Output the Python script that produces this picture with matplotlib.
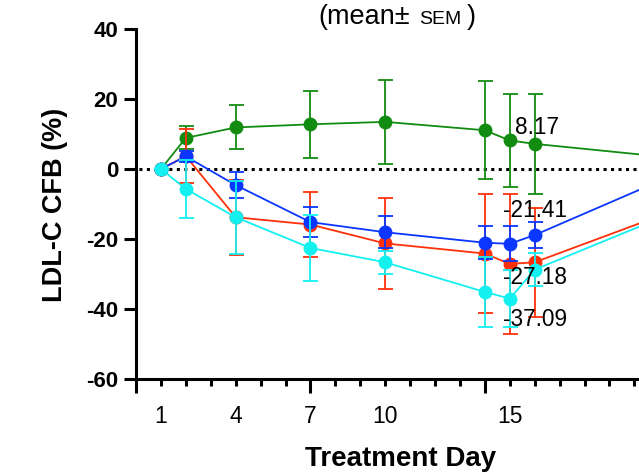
import numpy as np
import matplotlib
matplotlib.use("Agg")
import matplotlib.pyplot as plt
from matplotlib.ticker import MultipleLocator

plt.rcParams['font.family'] = ['Liberation Sans', 'DejaVu Sans']
plt.rcParams['axes.unicode_minus'] = False

# Data (LDL-C change from baseline, %)
days = [1, 2, 4, 7, 10, 14, 15, 16, 22]
green = [0, 8.9, 11.9, 12.8, 13.5, 11.1, 8.17, 7.2, 2.9]
green_err = [0, 3.3, 6.3, 9.6, 12.0, 14.1, 13.4, 14.3, 12.0]
red = [0, 3.7, -13.8, -15.9, -21.3, -24.2, -27.18, -26.7, -10.8]
red_err = [0, 7.7, 10.7, 9.2, 13.0, 17.0, 20.0, 15.6, 12.0]
blue = [0, 3.6, -4.6, -15.2, -18.1, -21.1, -21.41, -18.9, -0.4]
blue_err = [0, 1.7, 3.7, 4.3, 4.6, 4.7, 5.0, 3.8, 5.0]
cyan = [0, -5.7, -13.8, -22.6, -26.7, -35.2, -37.09, -28.8, -11.2]
cyan_err = [0, 8.2, 10.4, 9.5, 3.3, 10.0, 8.1, 4.8, 8.0]

series = [
    (green, green_err, '#118c11'),
    (red, red_err, '#ff300a'),
    (blue, blue_err, '#0a36ff'),
    (cyan, cyan_err, '#14f0f0'),
]

day_labels = [1, 4, 7, 10, 15]
value_labels = ['8.17', '-21.41', '-27.18', '-37.09']
label_pos = [(15.2, 10.0), (14.72, -13.6), (14.72, -33.0), (14.72, -44.8)]

# figure / axes geometry (pixels)
W, H = 639, 472
px_day = 24.92
x0, yb, yt = 136, 378.6, 29.3
xmax = 22.5

fig = plt.figure(figsize=(W / 100, H / 100), dpi=100)
ax = fig.add_axes([x0 / W, (H - yb) / H, xmax * px_day / W, (yb - yt) / H])

ax.axhline(0, color='black', lw=2.2, ls=(1.5, (1, 1.45)), zorder=1)

for i, (vals, errs, col) in enumerate(series):
    ax.errorbar(days, vals, yerr=errs, color=col, lw=1.3, elinewidth=1.3,
                marker='o', ms=9, capsize=5.4, capthick=1.3, zorder=2 + i)

for txt, (lx, ly) in zip(value_labels, label_pos):
    ax.text(lx, ly, txt, fontsize=16.3, ha='left', va='baseline', zorder=10)

ax.set_xlim(0, xmax)
ax.set_ylim(-60, 40)
ax.set_yticks([-60, -40, -20, 0, 20, 40])
ax.xaxis.set_major_locator(MultipleLocator(7))
ax.xaxis.set_minor_locator(MultipleLocator(1))

for s in ['top', 'right']:
    ax.spines[s].set_visible(False)
for s in ['left', 'bottom']:
    ax.spines[s].set_linewidth(2.2)

ax.tick_params(axis='y', length=8.6, width=2.2, pad=4, labelsize=16)
for lab in ax.get_yticklabels():
    lab.set_fontweight('bold')
ax.tick_params(axis='x', which='major', length=10, width=2.2, labelbottom=False)
ax.tick_params(axis='x', which='minor', length=5, width=2.2)

sec = ax.secondary_xaxis('bottom')
sec.set_xticks(day_labels)
sec.tick_params(length=0, pad=19, labelsize=16.5)
sec.spines['bottom'].set_visible(False)

fig.text(55.5 / W, (H - 205) / H, 'LDL-C CFB (%)', rotation=90, ha='center',
         va='center', fontsize=19.5, fontweight='bold')
fig.text(400.5 / W, (H - 466.5) / H, 'Treatment Day', ha='center',
         va='baseline', fontsize=20, fontweight='bold')

# title: "(mean± SEM)" with a smaller SEM, pieces placed one after another
ty = (H - 24) / H
renderer = fig.canvas.get_renderer()
t1 = fig.text(318 / W, ty, '(mean\u00b1', fontsize=19.5, ha='left', va='baseline')
x_end = t1.get_window_extent(renderer).x1
t2 = fig.text((x_end + 9) / W, ty, 'SEM', fontsize=14, ha='left', va='baseline')
x_end = t2.get_window_extent(renderer).x1
fig.text((x_end + 6) / W, ty, ')', fontsize=19.5, ha='left', va='baseline')

fig.savefig('out.png', dpi=100)
